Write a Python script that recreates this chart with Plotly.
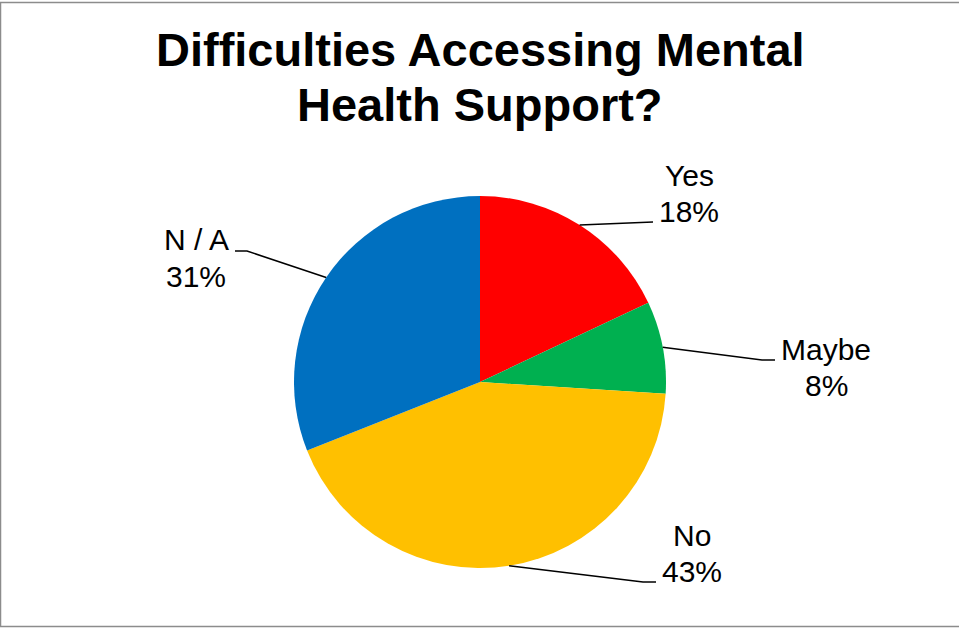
import math
import plotly.graph_objects as go

# Survey answers
categories = ["Yes", "Maybe", "No", "N / A"]
shares = [18, 8, 43, 31]
slice_colors = ["#FF0000", "#00B050", "#FFC000", "#0070C0"]
title_lines = ["Difficulties Accessing Mental", "Health Support?"]

# Canvas and pie geometry (pixels)
W, H = 959, 628
CX, CY, R = 480, 382, 186

# Label text centres (x, first-line y, second-line y) and leader-line bends (pixels)
label_pos = {
    "Yes": (689, 176, 211),
    "Maybe": (826, 349, 385),
    "No": (692, 535, 571),
    "N / A": (196, 239, 276),
}
leader_path = {
    "Yes": [(653, 222)],
    "Maybe": [(762, 360), (775, 360)],
    "No": [(643, 582), (656, 582)],
    "N / A": [(247, 251), (235, 251)],
}


def px(x):
    return x / W


def py(y):
    return 1 - y / H


fig = go.Figure(
    go.Pie(
        labels=categories,
        values=shares,
        marker=dict(colors=slice_colors, line=dict(width=0)),
        sort=False,
        direction="clockwise",
        rotation=0,
        textinfo="none",
        hoverinfo="label+percent",
        showlegend=False,
        domain=dict(x=[px(CX - R), px(CX + R)], y=[py(CY + R), py(CY - R)]),
    )
)

annotations = []
shapes = []
total = sum(shares)
cum = 0
for name, val in zip(categories, shares):
    mid = (cum + val / 2) / total * 2 * math.pi
    cum += val
    pct = round(val / total * 100)
    sx = CX + R * math.sin(mid)
    sy = CY - R * math.cos(mid)
    pts = [(sx, sy)] + leader_path[name]
    path = "M " + " L ".join(f"{px(x)},{py(y)}" for x, y in pts)
    shapes.append(dict(type="path", xref="paper", yref="paper", path=path,
                       line=dict(color="black", width=1.5)))
    lx, ly1, ly2 = label_pos[name]
    for txt, ly in ((name, ly1), (f"{pct}%", ly2)):
        annotations.append(dict(
            text=txt, x=px(lx), y=py(ly), xref="paper", yref="paper",
            xanchor="center", yanchor="middle", showarrow=False,
            font=dict(family="Liberation Sans, Arial", size=30, color="black"),
        ))

for txt, ly in zip(title_lines, (50, 104.5)):
    annotations.append(dict(
        text=f"<b>{txt}</b>", x=px(480), y=py(ly), xref="paper", yref="paper",
        xanchor="center", yanchor="middle", showarrow=False,
        font=dict(family="Liberation Sans, Arial", size=47, color="black"),
    ))

# Frame around the chart area
shapes.append(dict(type="rect", xref="paper", yref="paper",
                   x0=px(0.5), x1=px(962), y0=py(626.5), y1=py(2.5),
                   line=dict(color="#8C8C8C", width=1.5), fillcolor="rgba(0,0,0,0)"))

fig.update_layout(
    width=W, height=H,
    margin=dict(l=0, r=0, t=0, b=0),
    paper_bgcolor="white", plot_bgcolor="white",
    annotations=annotations, shapes=shapes,
)

fig.write_html("out.html", config={"displayModeBar": False})
